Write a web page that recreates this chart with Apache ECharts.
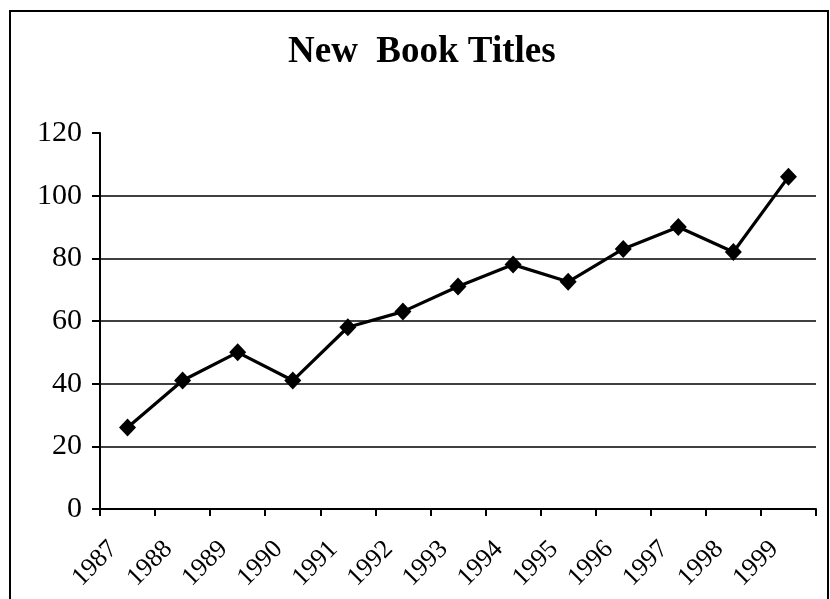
<!DOCTYPE html>
<html>
<head>
<meta charset="utf-8">
<script src="https://cdn.jsdelivr.net/npm/echarts@6/dist/echarts.min.js"></script>
<style>
  html, body { margin: 0; padding: 0; background: #fff; }
  #chart { width: 830px; height: 599px; }
</style>
</head>
<body>
<div id="chart"></div>
<script>
// Years on the horizontal axis
const years = ['1987', '1988', '1989', '1990', '1991', '1992', '1993',
               '1994', '1995', '1996', '1997', '1998', '1999'];
// Number of new book titles per year
const titles = [26, 41, 50, 41, 58, 63, 71, 78, 72.5, 83, 90, 82, 106];
// Value axis range and step
const yMin = 0;
const yMax = 120;
const yStep = 20;

const serif = '"Liberation Serif", "DejaVu Serif", serif';
const chart = echarts.init(document.getElementById('chart'), null, { renderer: 'canvas' });

chart.setOption({
  animation: false,
  backgroundColor: '#fff',
  title: {
    text: 'New  Book Titles',
    left: 283,
    top: 29,
    textStyle: { fontFamily: serif, fontWeight: 'bold', fontSize: 37, color: '#000' }
  },
  graphic: [{
    type: 'rect',
    shape: { x: 10, y: 11, width: 818, height: 620 },
    style: { fill: 'none', stroke: '#000', lineWidth: 2 },
    silent: true
  }],
  grid: { left: 100, right: 14, top: 133, bottom: 90, containLabel: false },
  xAxis: {
    type: 'category',
    data: years,
    boundaryGap: true,
    axisLine: { lineStyle: { color: '#000', width: 2 } },
    axisTick: { show: true, length: 7, lineStyle: { color: '#000', width: 2 } },
    axisLabel: {
      rotate: 45,
      margin: 22,
      padding: [0, 20, 0, 0],
      color: '#000',
      fontFamily: serif,
      fontSize: 26,
      interval: 0
    },
    splitLine: { show: false }
  },
  yAxis: {
    type: 'value',
    min: yMin,
    max: yMax,
    interval: yStep,
    axisLine: { show: true, lineStyle: { color: '#000', width: 2 } },
    axisTick: { show: true, length: 8, lineStyle: { color: '#000', width: 2 } },
    axisLabel: {
      margin: 18,
      color: '#000',
      fontFamily: serif,
      fontSize: 30
    },
    splitLine: {
      show: true,
      lineStyle: {
        color: ['#000', '#000', '#000', '#000', '#000', '#000', 'rgba(0,0,0,0)'],
        width: 1.5
      }
    }
  },
  series: [{
    type: 'line',
    data: titles,
    symbol: 'diamond',
    symbolSize: [17, 18],
    itemStyle: { color: '#000' },
    lineStyle: { color: '#000', width: 3.2 }
  }]
});
</script>
</body>
</html>
